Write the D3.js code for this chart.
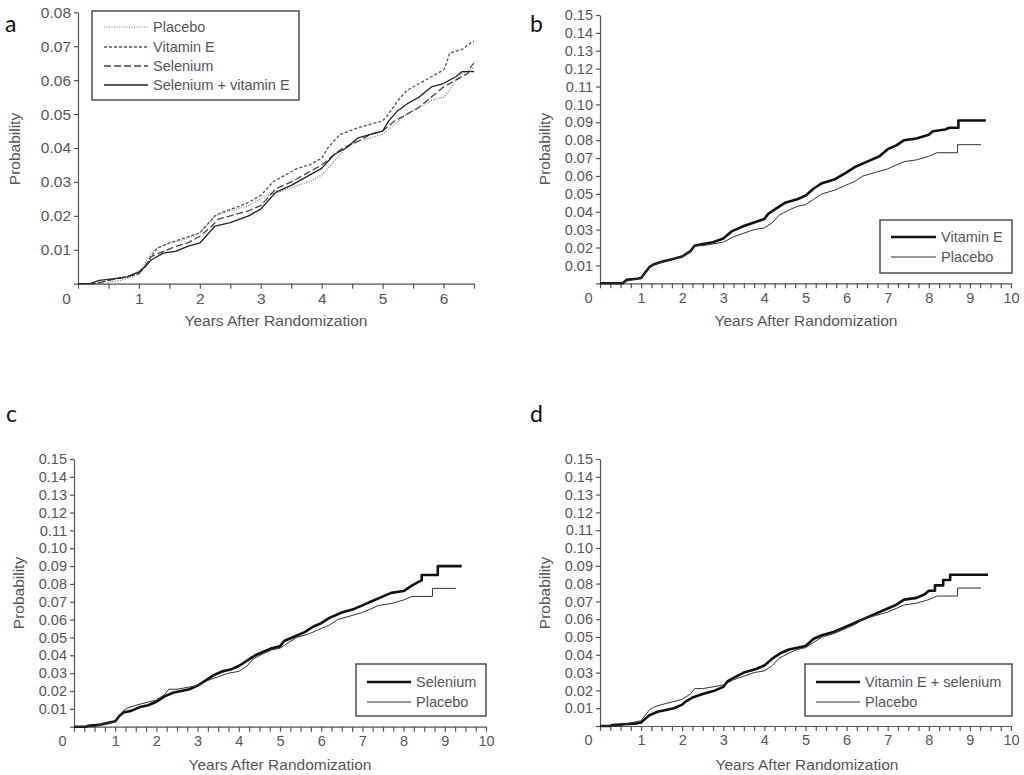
<!DOCTYPE html>
<html><head><meta charset="utf-8">
<script src="https://cdn.jsdelivr.net/npm/d3@7/dist/d3.min.js"></script>
<style>
html,body{margin:0;padding:0;background:#fff;}
svg{display:block;}
</style></head>
<body>
<svg id="chart" width="1024" height="775"></svg>
<script>
// ---------- DATA ----------
const xTitle = "Years After Randomization";
const yTitle = "Probability";

// Panel a series: [year, probability]
const placeboA = [[0,0],[0.45,0],[0.5,0.0005],[0.7,0.001],[0.9,0.002],[1.0,0.003],[1.1,0.006],[1.2,0.009],[1.3,0.0105],[1.5,0.012],[1.75,0.013],[2.0,0.015],[2.1,0.017],[2.25,0.020],[2.4,0.021],[2.6,0.022],[2.8,0.023],[3.0,0.025],[3.1,0.026],[3.3,0.027],[3.6,0.029],[3.8,0.030],[4.0,0.032],[4.1,0.034],[4.25,0.037],[4.4,0.040],[4.6,0.042],[4.8,0.043],[5.0,0.044],[5.2,0.047],[5.4,0.050],[5.6,0.052],[5.8,0.054],[6.0,0.055],[6.1,0.057],[6.2,0.060],[6.3,0.062],[6.45,0.063],[6.5,0.064]];
const vitEA = [[0,0],[0.3,0],[0.5,0.001],[0.8,0.002],[1.0,0.003],[1.1,0.005],[1.2,0.008],[1.3,0.0105],[1.5,0.012],[1.75,0.0135],[2.0,0.015],[2.1,0.017],[2.25,0.020],[2.35,0.021],[2.6,0.0225],[2.8,0.024],[3.0,0.026],[3.1,0.028],[3.2,0.030],[3.4,0.032],[3.6,0.034],[3.8,0.035],[4.0,0.037],[4.1,0.040],[4.2,0.042],[4.3,0.044],[4.6,0.046],[4.8,0.047],[5.0,0.048],[5.1,0.050],[5.25,0.054],[5.4,0.057],[5.6,0.059],[5.8,0.061],[6.0,0.063],[6.05,0.065],[6.1,0.068],[6.3,0.069],[6.45,0.071],[6.5,0.0715]];
const selA = [[0,0],[0.3,0],[0.5,0.001],[0.8,0.002],[1.0,0.003],[1.1,0.005],[1.2,0.008],[1.4,0.0095],[1.6,0.011],[1.8,0.012],[2.0,0.014],[2.2,0.017],[2.3,0.019],[2.5,0.020],[2.8,0.0215],[3.0,0.023],[3.1,0.025],[3.25,0.028],[3.5,0.030],[3.8,0.033],[4.0,0.035],[4.2,0.038],[4.35,0.040],[4.6,0.042],[4.8,0.044],[5.0,0.045],[5.2,0.048],[5.4,0.050],[5.6,0.052],[5.8,0.055],[6.0,0.058],[6.2,0.060],[6.4,0.062],[6.45,0.064],[6.5,0.065]];
const selVitA = [[0,0],[0.2,0],[0.35,0.001],[0.6,0.0015],[0.8,0.002],[1.0,0.0035],[1.1,0.005],[1.2,0.007],[1.4,0.009],[1.6,0.0095],[1.8,0.011],[2.0,0.012],[2.1,0.014],[2.25,0.017],[2.5,0.018],[2.8,0.020],[3.0,0.022],[3.1,0.024],[3.25,0.027],[3.5,0.029],[3.8,0.032],[4.0,0.034],[4.2,0.038],[4.4,0.040],[4.6,0.043],[4.8,0.044],[5.0,0.045],[5.1,0.048],[5.25,0.051],[5.4,0.053],[5.5,0.054],[5.6,0.055],[5.8,0.058],[6.0,0.059],[6.2,0.061],[6.3,0.0625],[6.5,0.0625]];

// Panels b-d series (repeated x values mark the visible vertical steps in the tails)
const placebo = [[0,0],[0.5,0],[0.6,0.001],[0.8,0.002],[1.0,0.003],[1.1,0.006],[1.2,0.009],[1.3,0.0105],[1.5,0.012],[1.75,0.0135],[2.0,0.015],[2.2,0.018],[2.3,0.021],[2.5,0.021],[2.75,0.022],[3.0,0.023],[3.25,0.026],[3.5,0.028],[3.75,0.030],[4.0,0.031],[4.2,0.034],[4.35,0.038],[4.6,0.041],[4.8,0.043],[5.0,0.044],[5.2,0.047],[5.4,0.050],[5.7,0.052],[6.0,0.055],[6.2,0.057],[6.4,0.060],[6.7,0.062],[7.0,0.064],[7.2,0.066],[7.4,0.068],[7.7,0.069],[8.0,0.071],[8.2,0.073],[8.7,0.073],[8.7,0.0775],[9.27,0.0775]];
const vitaminE = [[0,0],[0.55,0],[0.6,0.001],[0.65,0.002],[0.9,0.0025],[1.0,0.003],[1.1,0.006],[1.2,0.009],[1.3,0.0105],[1.5,0.012],[1.75,0.0135],[2.0,0.015],[2.2,0.018],[2.3,0.021],[2.5,0.022],[2.75,0.023],[3.0,0.025],[3.2,0.029],[3.5,0.032],[3.75,0.034],[4.0,0.036],[4.1,0.039],[4.3,0.042],[4.5,0.045],[4.8,0.047],[5.0,0.049],[5.2,0.053],[5.4,0.056],[5.7,0.058],[6.0,0.062],[6.2,0.065],[6.5,0.068],[6.8,0.071],[7.0,0.075],[7.2,0.077],[7.4,0.080],[7.7,0.081],[8.0,0.083],[8.1,0.085],[8.4,0.086],[8.5,0.087],[8.72,0.087],[8.72,0.091],[9.39,0.091]];
const selenium = [[0,0],[0.3,0],[0.35,0.0005],[0.6,0.001],[0.8,0.002],[1.0,0.003],[1.1,0.006],[1.2,0.008],[1.4,0.009],[1.6,0.011],[1.8,0.012],[2.0,0.014],[2.2,0.017],[2.4,0.019],[2.6,0.020],[2.8,0.021],[3.0,0.023],[3.2,0.026],[3.4,0.029],[3.6,0.031],[3.8,0.032],[4.0,0.034],[4.2,0.037],[4.4,0.040],[4.6,0.042],[4.8,0.044],[5.0,0.045],[5.1,0.048],[5.3,0.050],[5.6,0.053],[5.8,0.056],[6.0,0.058],[6.2,0.061],[6.5,0.064],[6.8,0.066],[7.0,0.068],[7.2,0.070],[7.5,0.073],[7.7,0.075],[8.0,0.076],[8.2,0.079],[8.35,0.081],[8.44,0.082],[8.44,0.085],[8.83,0.085],[8.83,0.090],[9.41,0.090]];
const vitESel = [[0,0],[0.25,0],[0.3,0.0005],[0.6,0.001],[0.9,0.0015],[1.0,0.002],[1.1,0.004],[1.2,0.006],[1.4,0.008],[1.6,0.009],[1.8,0.010],[2.0,0.012],[2.1,0.014],[2.25,0.016],[2.5,0.018],[2.8,0.020],[3.0,0.022],[3.1,0.025],[3.25,0.027],[3.5,0.030],[3.8,0.032],[4.0,0.034],[4.2,0.038],[4.4,0.041],[4.6,0.043],[4.8,0.044],[5.0,0.045],[5.2,0.049],[5.4,0.051],[5.7,0.053],[6.0,0.056],[6.3,0.059],[6.6,0.062],[7.0,0.066],[7.2,0.068],[7.4,0.071],[7.7,0.072],[7.9,0.074],[8.0,0.076],[8.15,0.076],[8.15,0.079],[8.35,0.079],[8.35,0.082],[8.52,0.082],[8.52,0.085],[9.44,0.085]];

const legendA = ["Placebo","Vitamin E","Selenium","Selenium + vitamin E"];
const legendB = ["Vitamin E","Placebo"];
const legendC = ["Selenium","Placebo"];
const legendD = ["Vitamin E + selenium","Placebo"];
const panelLetters = ["a","b","c","d"];

// ---------- DRAW ----------
const svg = d3.select("#chart");
svg.append("rect").attr("width",1024).attr("height",775).attr("fill","#fff");
const fontTick = '"Liberation Sans",Arial,sans-serif';
const textColor = "#58545c";
const axisColor = "#555";

function panel(cfg){
  const g = svg.append("g");
  const x = d3.scaleLinear().domain([0,cfg.xmax]).range([cfg.x0,cfg.x1]);
  const y = d3.scaleLinear().domain([0,cfg.ymax]).range([cfg.y0,cfg.y1]);

  // x axis
  const xt = d3.range(0, cfg.xmax+1e-9, cfg.minor);
  const xa = g.append("g").attr("transform",`translate(0,${cfg.y0})`)
    .call(d3.axisBottom(x).tickValues(xt).tickSize(5).tickSizeOuter(0).tickPadding(4)
      .tickFormat(d => Math.abs(d-Math.round(d))<1e-9 ? String(Math.round(d)) : ""));
  xa.selectAll(".tick text").attr("font-size",cfg.tickFs).attr("font-family",fontTick).attr("fill",textColor);
  xa.selectAll(".tick").filter(d=>d===0).select("text").attr("dx",-12);
  xa.selectAll("line,path").attr("stroke",axisColor).attr("stroke-width",1.2);

  // y axis
  const yt = d3.range(0, cfg.ymax+1e-9, 0.01).map(v=>+v.toFixed(2));
  const ya = g.append("g").attr("transform",`translate(${cfg.x0},0)`)
    .call(d3.axisLeft(y).tickValues(yt).tickSize(4).tickSizeOuter(0).tickPadding(3)
      .tickFormat(d => d===0 ? "" : d3.format(".2f")(d)));
  ya.selectAll(".tick text").attr("font-size",cfg.tickFs).attr("font-family",fontTick).attr("fill",textColor);
  ya.selectAll("line,path").attr("stroke",axisColor).attr("stroke-width",1.2);

  // titles
  g.append("text").attr("x",cfg.xtX).attr("y",cfg.xtY).attr("text-anchor","middle")
    .attr("font-family",fontTick).attr("font-size",15.5).attr("fill",textColor).text(xTitle);
  g.append("text").attr("transform",`translate(${cfg.ytX},${cfg.ytY}) rotate(-90)`).attr("text-anchor","middle")
    .attr("font-family",fontTick).attr("font-size",15.5).attr("fill",textColor).text(yTitle);
  g.append("text").attr("x",cfg.lx).attr("y",cfg.ly).attr("font-family","Lato, 'Open Sans', sans-serif")
    .attr("font-size",23).attr("fill","#111").text(cfg.letter);

  // series
  const line = d3.line().x(d=>x(d[0])).y(d=>y(d[1])).curve(d3.curveLinear);
  cfg.series.forEach(s=>{
    g.append("path").datum(s.data).attr("d",line).attr("fill","none")
      .attr("stroke",s.color).attr("stroke-width",s.w).attr("stroke-dasharray",s.dash||null)
      .attr("stroke-linejoin","round");
  });

  // legend
  const L = cfg.legend;
  g.append("rect").attr("x",L.x).attr("y",L.y).attr("width",L.w).attr("height",L.h)
    .attr("fill","#fff").attr("stroke","#444").attr("stroke-width",1.4);
  cfg.series.forEach((s,i)=>{
    const ry = L.rows[i];
    g.append("line").attr("x1",L.sx1).attr("x2",L.sx2).attr("y1",ry).attr("y2",ry)
      .attr("stroke",s.color).attr("stroke-width",s.w).attr("stroke-dasharray",s.dash||null);
    g.append("text").attr("x",L.tx).attr("y",ry).attr("dy","0.36em")
      .attr("font-family",fontTick).attr("font-size",14.5).attr("fill",textColor).text(s.name);
  });
}

// panel a
panel({letter:panelLetters[0], lx:5, ly:32, xmax:6.5, ymax:0.08, minor:0.5,
  x0:78, x1:474, y0:283.7, y1:12.3, tickFs:15.5,
  xtX:276, xtY:326, ytX:19.5, ytY:149,
  series:[
    {name:legendA[0], data:placeboA, color:"#777", w:1.2, dash:"1,1.5"},
    {name:legendA[1], data:vitEA, color:"#555", w:1.3, dash:"3,2"},
    {name:legendA[2], data:selA, color:"#444", w:1.3, dash:"7,3"},
    {name:legendA[3], data:selVitA, color:"#222", w:1.3}
  ],
  legend:{x:92,y:11,w:207,h:89,rows:[27,47,66,85],sx1:104,sx2:148,tx:153}
});

// panel b
panel({letter:panelLetters[1], lx:530, ly:32, xmax:10, ymax:0.15, minor:0.25,
  x0:600, x1:1011, y0:283.3, y1:15, tickFs:14.5,
  xtX:806, xtY:326, ytX:550, ytY:149,
  series:[
    {name:legendB[0], data:vitaminE, color:"#111", w:2.6},
    {name:legendB[1], data:placebo, color:"#333", w:1}
  ],
  legend:{x:880,y:220,w:132,h:53,rows:[237,257],sx1:891,sx2:936,tx:941}
});

// panel c
panel({letter:panelLetters[2], lx:6, ly:422, xmax:10, ymax:0.15, minor:0.25,
  x0:74, x1:486, y0:726.7, y1:459, tickFs:14.5,
  xtX:280, xtY:770, ytX:24, ytY:593,
  series:[
    {name:legendC[0], data:selenium, color:"#111", w:2.6},
    {name:legendC[1], data:placebo, color:"#333", w:1}
  ],
  legend:{x:356,y:664,w:130,h:52,rows:[682,702],sx1:367,sx2:411,tx:416}
});

// panel d
panel({letter:panelLetters[3], lx:530, ly:422, xmax:10, ymax:0.15, minor:0.25,
  x0:600, x1:1011, y0:726, y1:459, tickFs:14.5,
  xtX:807, xtY:770, ytX:550, ytY:593,
  series:[
    {name:legendD[0], data:vitESel, color:"#111", w:2.6},
    {name:legendD[1], data:placebo, color:"#333", w:1}
  ],
  legend:{x:805,y:664,w:207,h:52,rows:[682,702],sx1:816,sx2:860,tx:865}
});
</script>
</body></html>
